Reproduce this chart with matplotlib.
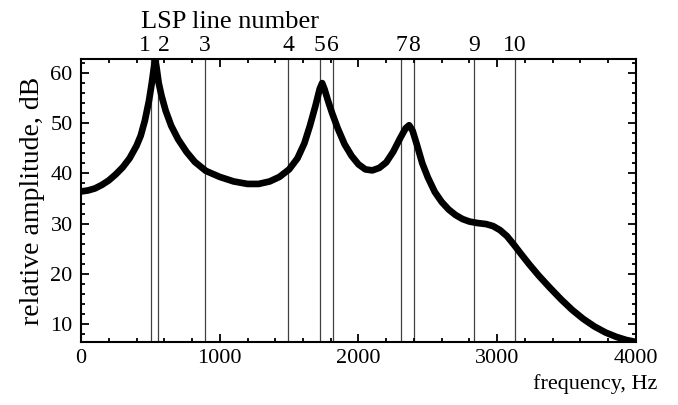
import matplotlib
matplotlib.use('Agg')

import matplotlib.pyplot as plt
from matplotlib.ticker import MultipleLocator

plt.rcParams['font.family'] = ['Liberation Serif', 'DejaVu Serif']

# LPC envelope
freq_hz = [0, 50, 100, 150, 200, 250, 300, 350, 400, 430, 460, 490, 510, 525,
           535, 545, 560, 580, 610, 650, 700, 760, 820, 900, 1000, 1100, 1200,
           1280, 1360, 1430, 1500, 1560, 1610, 1650, 1690, 1720, 1738, 1755,
           1780, 1810, 1850, 1900, 1950, 2000, 2050, 2100, 2150, 2200, 2250,
           2300, 2340, 2365, 2390, 2420, 2460, 2500, 2550, 2600, 2650, 2700,
           2750, 2800, 2860, 2920, 2970, 3020, 3070, 3120, 3170, 3230, 3300,
           3380, 3460, 3540, 3620, 3700, 3780, 3860, 3930, 4000]
amp_db = [36.4, 36.6, 37.0, 37.7, 38.6, 39.8, 41.2, 43.0, 45.5, 47.5, 50.5,
          54.5, 58.0, 61.0, 62.6, 61.0, 58.0, 55.5, 52.5, 49.5, 46.8, 44.3,
          42.3, 40.5, 39.3, 38.4, 37.9, 37.9, 38.4, 39.3, 40.8, 43.0, 46.0,
          49.5, 53.5, 56.8, 58.0, 56.8, 54.5, 52.0, 49.0, 45.8, 43.5, 41.8,
          40.8, 40.6, 41.1, 42.2, 44.3, 47.0, 49.0, 49.6, 48.5, 45.8, 42.0,
          39.2, 36.3, 34.3, 32.8, 31.7, 30.9, 30.4, 30.1, 29.9, 29.5, 28.7,
          27.5, 25.8, 24.0, 21.9, 19.6, 17.2, 14.9, 12.8, 11.0, 9.5, 8.3, 7.4,
          6.8, 6.4]

# line spectral pair frequencies
lsp_hz = [502, 557, 894, 1494, 1722, 1816, 2306, 2400, 2832, 3128]
lsp_labels = ['1', '2', '3', '4', '5', '6', '7', '8', '9', '10']

fig = plt.figure(figsize=(6.78, 4.05), dpi=100)
ax = fig.add_axes([0.1195, 0.1556, 0.8185, 0.6987])

for f in lsp_hz:
    ax.axvline(f, color='0.25', lw=0.9, zorder=1)

ax.plot(freq_hz, amp_db, color='black', lw=4.8, solid_capstyle='round',
        solid_joinstyle='round', zorder=3)

ax.set_xlim(0, 4000)
ax.set_ylim(6.4, 62.8)

ax.xaxis.set_major_locator(MultipleLocator(1000))
ax.xaxis.set_minor_locator(MultipleLocator(200))
ax.yaxis.set_major_locator(MultipleLocator(10))
ax.yaxis.set_minor_locator(MultipleLocator(2))
ax.tick_params(which='both', direction='in', top=True, right=True,
               labelsize=16, width=1.3)
ax.tick_params(which='major', length=6)
ax.tick_params(which='minor', length=3)
ax.tick_params(axis='x', pad=5)
ax.tick_params(axis='y', pad=6)
for s in ax.spines.values():
    s.set_linewidth(1.5)

top = ax.secondary_xaxis('top')
top.set_xticks(lsp_hz)
top.set_xticklabels(lsp_labels)
top.tick_params(length=0, pad=2, labelsize=17)
top.spines['top'].set_visible(False)
# the first two numbers sit either side of their close pair of lines
tl = top.get_xticklabels()
tl[0].set_horizontalalignment('right')
tl[1].set_horizontalalignment('left')

ax.set_ylabel('relative amplitude, dB', fontsize=20, labelpad=4)
ax.set_xlabel('frequency, Hz', fontsize=16)
ax.xaxis.set_label_coords(0.926, -0.115)

fig.text(230 / 678, 1 - 22 / 405, 'LSP line number', fontsize=19,
         ha='center', va='center')

plt.savefig('out.png', dpi=100)
